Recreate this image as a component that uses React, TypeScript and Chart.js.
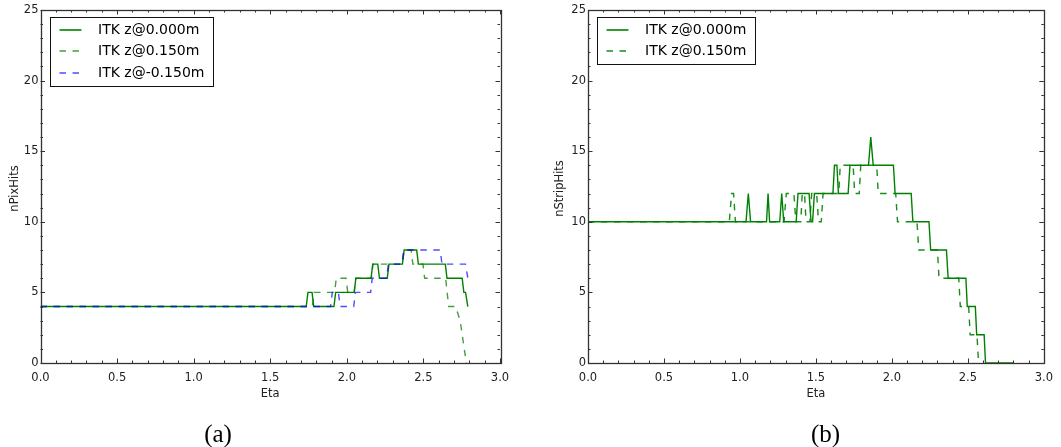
import React, { useEffect, useRef } from "react";
import { Chart, registerables } from "chart.js";

Chart.register(...registerables);

// ---- (a) pixel hits vs eta ----
const pixEtaZ0 = [0, 1.735, 1.746, 1.773, 1.784, 1.916, 1.927, 2.048, 2.059, 2.158, 2.169, 2.202, 2.213, 2.264, 2.275, 2.363, 2.374, 2.456, 2.467, 2.643, 2.654, 2.753, 2.764, 2.775, 2.79];
const pixHitsZ0 = [4, 4, 5, 5, 4, 4, 5, 5, 6, 6, 7, 7, 6, 6, 7, 7, 8, 8, 7, 7, 6, 6, 5, 5, 4];

const pixEtaZp15 = [0, 1.775, 1.786, 1.92, 1.931, 1.995, 2.006, 2.048, 2.059, 2.16, 2.171, 2.363, 2.374, 2.42, 2.431, 2.497, 2.508, 2.645, 2.665, 2.71, 2.74, 2.78];
const pixHitsZp15 = [4, 4, 5, 5, 6, 6, 5, 5, 6, 6, 7, 7, 8, 8, 7, 7, 6, 6, 4, 4, 3, 0];

const pixEtaZm15 = [0, 1.894, 1.905, 1.945, 1.956, 2.045, 2.056, 2.155, 2.166, 2.26, 2.271, 2.36, 2.371, 2.61, 2.621, 2.775, 2.79];
const pixHitsZm15 = [4, 4, 5, 5, 4, 4, 5, 5, 6, 6, 7, 7, 8, 8, 7, 7, 6];

// ---- (b) strip hits vs eta ----
const stripEtaZ0 = [0, 1.04, 1.055, 1.07, 1.175, 1.185, 1.195, 1.262, 1.275, 1.288, 1.37, 1.382, 1.455, 1.468, 1.478, 1.49, 1.612, 1.622, 1.638, 1.648, 1.712, 1.724, 1.846, 1.861, 1.877, 2.01, 2.021, 2.127, 2.138, 2.244, 2.255, 2.359, 2.37, 2.487, 2.496, 2.549, 2.558, 2.607, 2.616, 2.8];
const stripHitsZ0 = [10, 10, 12, 10, 10, 12, 10, 10, 12, 10, 10, 12, 12, 10, 10, 12, 12, 14, 14, 12, 12, 14, 14, 16, 14, 14, 12, 12, 10, 10, 8, 8, 6, 6, 4, 4, 2, 2, 0, 0];

const stripEtaZp15 = [0, 0.93, 0.945, 0.958, 0.97, 1.29, 1.305, 1.355, 1.368, 1.4, 1.41, 1.425, 1.435, 1.46, 1.472, 1.505, 1.517, 1.535, 1.547, 1.65, 1.66, 1.745, 1.755, 1.785, 1.795, 1.9, 1.91, 2.025, 2.037, 2.165, 2.177, 2.3, 2.31, 2.44, 2.45, 2.505, 2.515, 2.56, 2.57];
const stripHitsZp15 = [10, 10, 12, 12, 10, 10, 12, 12, 10, 10, 12, 12, 10, 10, 12, 12, 10, 10, 12, 12, 14, 14, 12, 12, 14, 14, 12, 12, 10, 10, 8, 8, 6, 6, 4, 4, 2, 2, 0];

// ---- axes ----
const etaTicks = [0, 0.5, 1, 1.5, 2, 2.5, 3];
const etaTickLabels = ["0.0", "0.5", "1.0", "1.5", "2.0", "2.5", "3.0"];
const hitTicks = [0, 5, 10, 15, 20, 25];
const hitTickLabels = ["0", "5", "10", "15", "20", "25"];
const etaMinorStep = 0.1;
const hitMinorStep = 1;

const FONT = "'DejaVu Sans', sans-serif";
const GREEN = "#008000";
const GREEN_DASH_A = "rgba(0,128,0,0.75)";
const GREEN_DASH_B = "rgba(0,128,0,0.9)";
const BLUE_DASH = "rgba(0,0,255,0.7)";
const DASH = [6.5, 6.5];

type SeriesDef = { label: string; eta: number[]; hits: number[]; color: string; dash: number[] };

type PanelDef = {
  left: number;
  width: number;
  padLeft: number;
  padRight: number;
  yAxisWidth: number;
  yTitle: string;
  caption: string;
  captionX: number;
  yTitleX: number;
  legendW: number;
  series: SeriesDef[];
};

const decorPlugin = {
  id: "decor",
  afterDatasetsDraw(chart: any, _args: any, opts: any) {
    const { ctx, chartArea: a, scales } = chart;
    const xs = scales.x;
    const ys = scales.y;
    ctx.save();

    // inward ticks on all four sides
    ctx.strokeStyle = "#333";
    ctx.lineWidth = 1;
    ctx.beginPath();
    const nx = Math.round((etaTicks[etaTicks.length - 1] - etaTicks[0]) / etaMinorStep);
    for (let i = 0; i <= nx; i++) {
      const v = etaTicks[0] + i * etaMinorStep;
      const px = Math.round(xs.getPixelForValue(v)) + 0.5;
      const len = i % 5 === 0 ? 4.5 : 2.5;
      ctx.moveTo(px, a.bottom);
      ctx.lineTo(px, a.bottom - len);
      ctx.moveTo(px, a.top);
      ctx.lineTo(px, a.top + len);
    }
    const ny = Math.round((hitTicks[hitTicks.length - 1] - hitTicks[0]) / hitMinorStep);
    for (let j = 0; j <= ny; j++) {
      const v = hitTicks[0] + j * hitMinorStep;
      const py = Math.round(ys.getPixelForValue(v)) + 0.5;
      const len = j % 5 === 0 ? 4.5 : 2.5;
      ctx.moveTo(a.left, py);
      ctx.lineTo(a.left + len, py);
      ctx.moveTo(a.right, py);
      ctx.lineTo(a.right - len, py);
    }
    ctx.stroke();

    // frame
    ctx.strokeStyle = "#333";
    ctx.lineWidth = 1.3;
    ctx.strokeRect(Math.round(a.left) + 0.5, Math.round(a.top) + 0.5, Math.round(a.right - a.left), Math.round(a.bottom - a.top));

    // legend
    const items: SeriesDef[] = opts.items;
    const bx = Math.round(a.left + 9) + 0.5;
    const by = Math.round(a.top + 7) + 0.5;
    const rowH = 21.5;
    const bh = Math.round(items.length * rowH + 4);
    ctx.fillStyle = "#fff";
    ctx.fillRect(bx, by, opts.legendW, bh);
    ctx.strokeStyle = "#111";
    ctx.lineWidth = 1;
    ctx.strokeRect(bx, by, opts.legendW, bh);
    ctx.font = `14px ${FONT}`;
    ctx.textBaseline = "middle";
    ctx.textAlign = "left";
    items.forEach((it, i) => {
      const yy = Math.round(by + 12 + i * rowH);
      ctx.strokeStyle = it.color;
      ctx.lineWidth = 1.6;
      ctx.setLineDash(it.dash);
      ctx.beginPath();
      ctx.moveTo(bx + 9, yy);
      ctx.lineTo(bx + 31, yy);
      ctx.stroke();
      ctx.setLineDash([]);
      ctx.fillStyle = "#000";
      ctx.fillText(it.label, bx + 47.5, yy);
    });

    // axis titles
    ctx.fillStyle = "#222";
    ctx.font = `11.5px ${FONT}`;
    ctx.textAlign = "center";
    ctx.textBaseline = "middle";
    ctx.fillText("Eta", (a.left + a.right) / 2, 394);
    ctx.save();
    ctx.translate(opts.yTitleX, (a.top + a.bottom) / 2 + 2);
    ctx.rotate(-Math.PI / 2);
    ctx.fillText(opts.yTitle, 0, 0);
    ctx.restore();

    // panel caption
    ctx.fillStyle = "#000";
    ctx.font = `25px 'Liberation Serif', serif`;
    ctx.textBaseline = "alphabetic";
    ctx.fillText(opts.caption, opts.captionX, 442);

    ctx.restore();
  },
};

function Panel({ def }: { def: PanelDef }) {
  const ref = useRef<HTMLCanvasElement | null>(null);
  useEffect(() => {
    if (!ref.current) return;
    const chart = new Chart(ref.current, {
      type: "line",
      data: {
        datasets: def.series.map((s, idx) => ({
          label: s.label,
          data: s.eta.map((e, i) => ({ x: e, y: s.hits[i] })),
          borderColor: s.color,
          borderWidth: 1.4,
          borderDash: s.dash,
          pointRadius: 0,
          tension: 0,
          fill: false,
          order: def.series.length - idx,
        })),
      },
      options: {
        responsive: false,
        animation: false,
        events: [],
        layout: { padding: { left: def.padLeft, right: def.padRight, top: 10, bottom: 0 } },
        scales: {
          x: {
            type: "linear",
            min: etaTicks[0],
            max: etaTicks[etaTicks.length - 1],
            afterBuildTicks: (s: any) => {
              s.ticks = etaTicks.map((v) => ({ value: v }));
            },
            afterFit: (s: any) => {
              s.height = 84;
            },
            grid: { display: false, drawTicks: false },
            border: { display: false },
            ticks: {
              padding: 8,
              maxRotation: 0,
              autoSkip: false,
              color: "#222",
              font: { family: FONT, size: 11.5 },
              callback: (_v: any, i: number) => etaTickLabels[i],
            },
          },
          y: {
            type: "linear",
            min: hitTicks[0],
            max: hitTicks[hitTicks.length - 1],
            afterBuildTicks: (s: any) => {
              s.ticks = hitTicks.map((v) => ({ value: v }));
            },
            afterFit: (s: any) => {
              s.width = def.yAxisWidth;
            },
            grid: { display: false, drawTicks: false },
            border: { display: false },
            ticks: {
              padding: 2,
              autoSkip: false,
              color: "#222",
              font: { family: FONT, size: 11.5 },
              callback: (_v: any, i: number) => hitTickLabels[i],
            },
          },
        },
        plugins: {
          legend: { display: false },
          tooltip: { enabled: false },
          decor: {
            items: def.series,
            legendW: def.legendW,
            yTitle: def.yTitle,
            yTitleX: def.yTitleX,
            caption: def.caption,
            captionX: def.captionX,
          },
        } as any,
      },
      plugins: [decorPlugin],
    });
    return () => chart.destroy();
  }, [def]);
  return (
    <canvas
      ref={ref}
      width={def.width}
      height={447}
      style={{ position: "absolute", left: def.left, top: 0, width: def.width, height: 447 }}
    />
  );
}

const panelA: PanelDef = {
  left: 0,
  width: 530,
  padLeft: 0,
  padRight: 30,
  yAxisWidth: 40.5,
  yTitle: "nPixHits",
  yTitleX: 15,
  caption: "(a)",
  captionX: 218,
  legendW: 163,
  series: [
    { label: "ITK z@0.000m", eta: pixEtaZ0, hits: pixHitsZ0, color: GREEN, dash: [] },
    { label: "ITK z@0.150m", eta: pixEtaZp15, hits: pixHitsZp15, color: GREEN_DASH_A, dash: DASH },
    { label: "ITK z@-0.150m", eta: pixEtaZm15, hits: pixHitsZm15, color: BLUE_DASH, dash: DASH },
  ],
};

const panelB: PanelDef = {
  left: 530,
  width: 531,
  padLeft: 0,
  padRight: 15,
  yAxisWidth: 58,
  yTitle: "nStripHits",
  yTitleX: 29.7,
  caption: "(b)",
  captionX: 295.6,
  legendW: 158,
  series: [
    { label: "ITK z@0.000m", eta: stripEtaZ0, hits: stripHitsZ0, color: GREEN, dash: [] },
    { label: "ITK z@0.150m", eta: stripEtaZp15, hits: stripHitsZp15, color: GREEN_DASH_B, dash: DASH },
  ],
};

export default function App() {
  return (
    <div style={{ position: "fixed", left: 0, top: 0, width: 1061, height: 447, background: "#fff", overflow: "hidden" }}>
      <Panel def={panelA} />
      <Panel def={panelB} />
    </div>
  );
}
